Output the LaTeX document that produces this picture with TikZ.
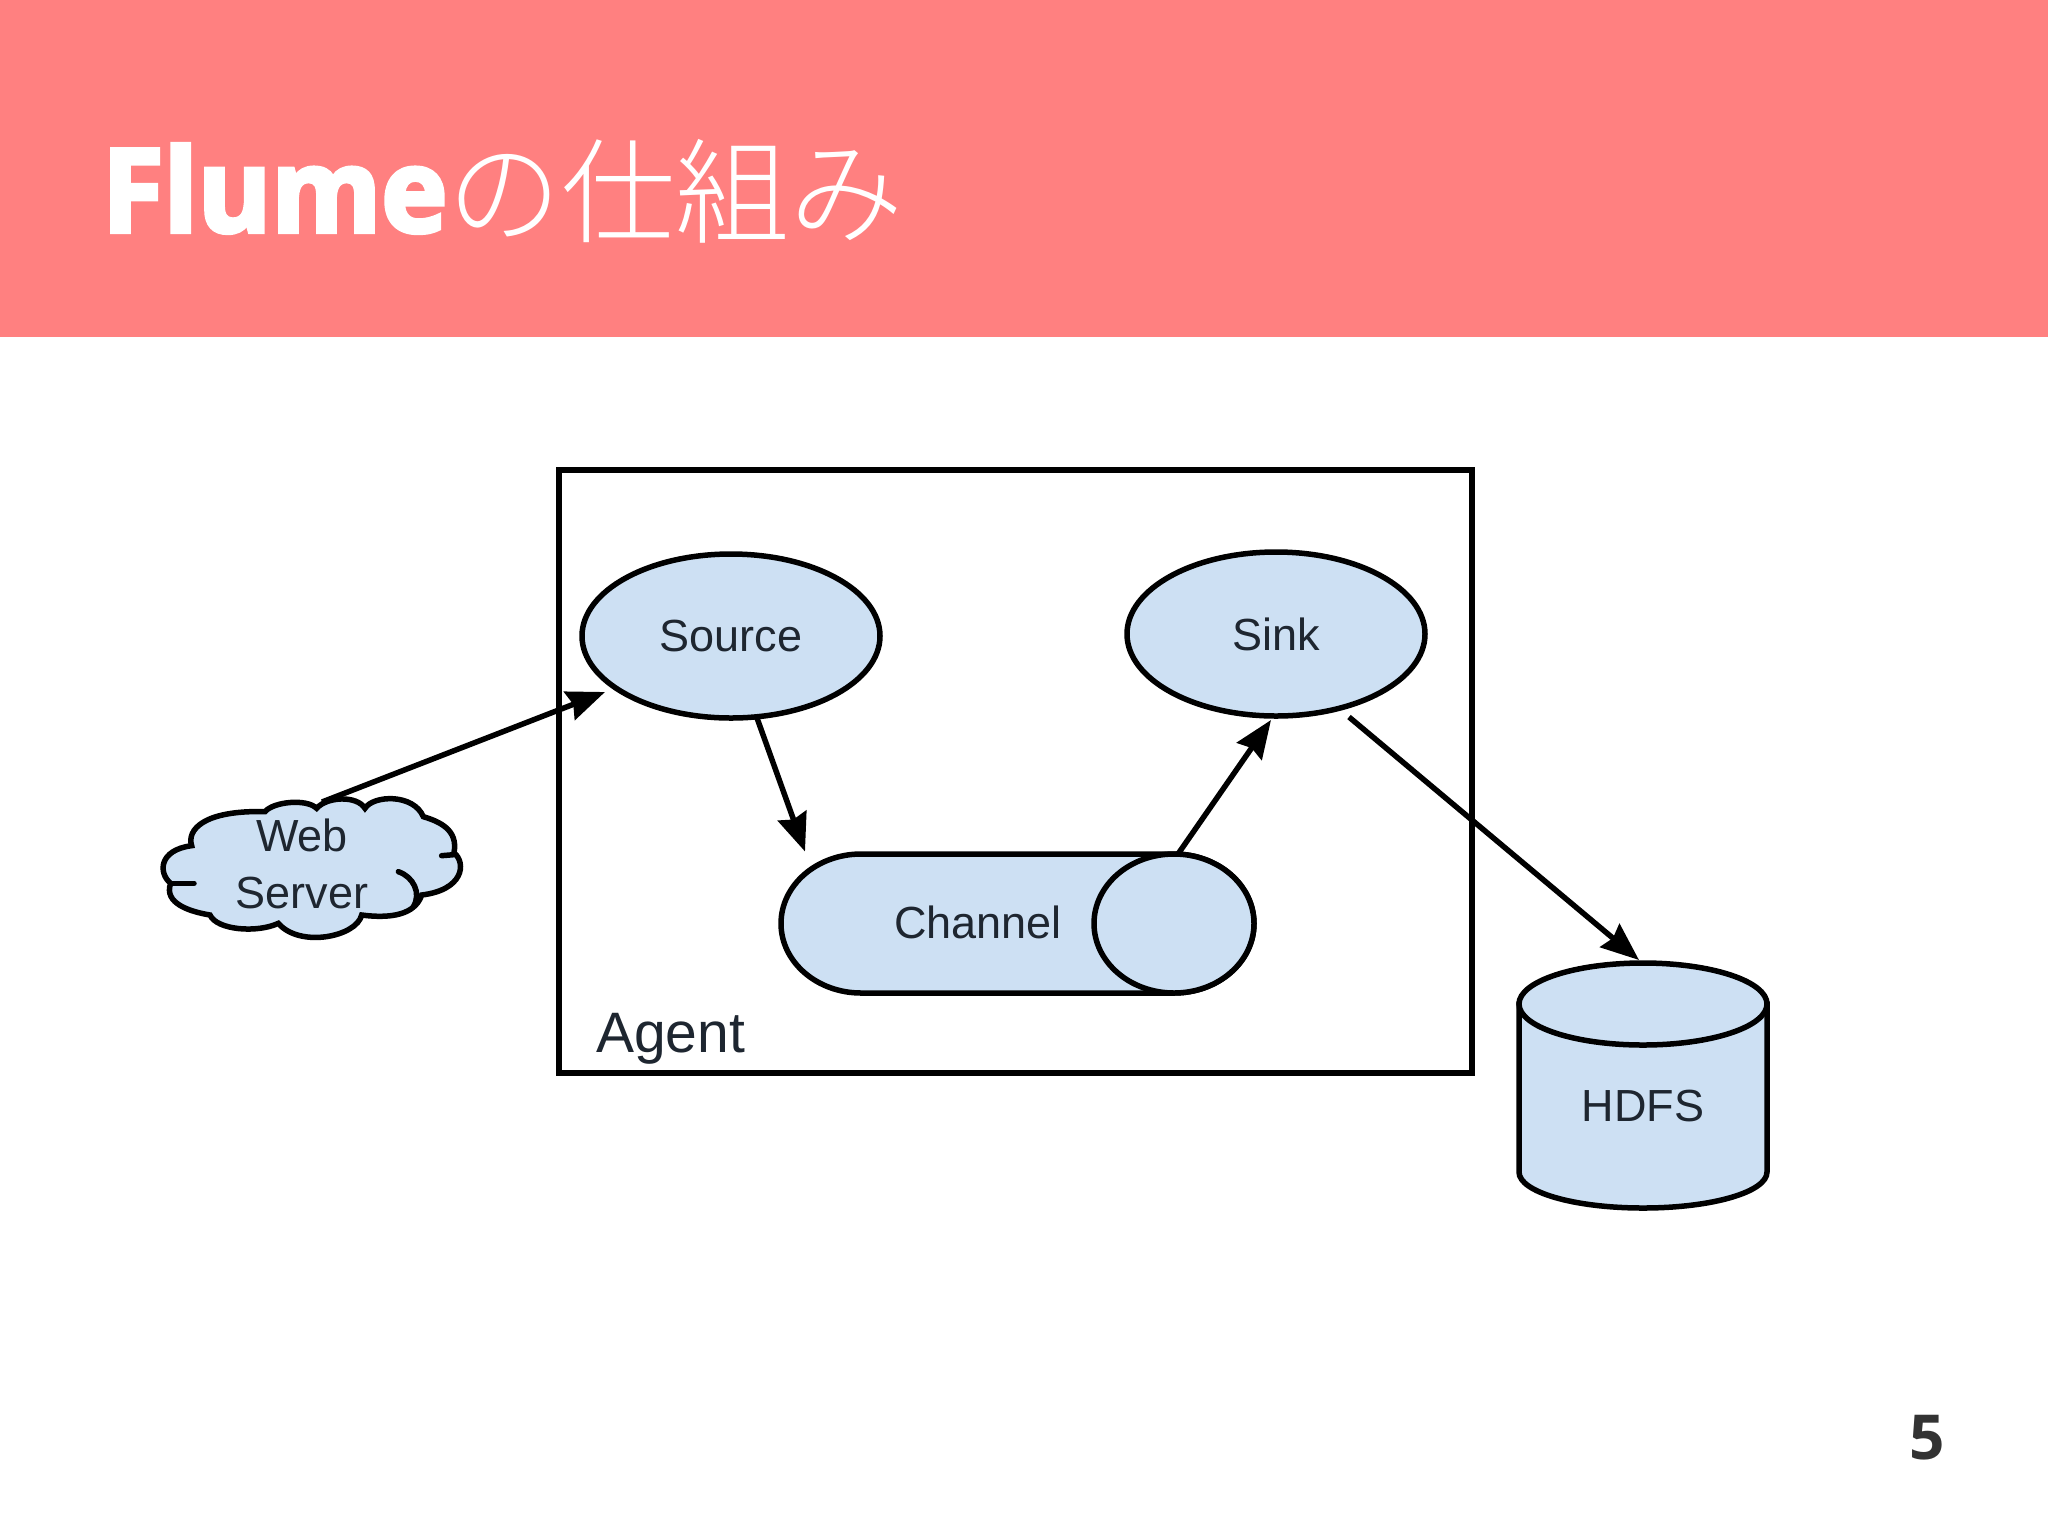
\documentclass[tikz,border=0pt]{standalone}
\usepackage{fontspec}
\usetikzlibrary{arrows.meta,shapes.geometric}
\setmainfont{Liberation Sans}
\newfontfamily\titlefont[FakeBold=3.5,FakeStretch=0.965]{Open Sans Bold}
\newfontfamily\cjkfont{Noto Sans CJK JP Light}
\newfontfamily\numfont{Open Sans Bold}
\definecolor{banner}{HTML}{FF8080}
\definecolor{pale}{HTML}{CDE0F3}
\definecolor{ink}{HTML}{1E2630}
\definecolor{numink}{HTML}{333333}
\tikzset{
  outline/.style={draw=black,line width=5.5pt,fill=pale},
  oval/.style={ellipse,outline,inner sep=0pt,minimum width=298pt,minimum height=164pt},
  lbl/.style={text=ink,inner sep=0pt,font=\fontsize{45pt}{57pt}\selectfont},
  conn/.style={draw=black,line width=5.5pt,-{Stealth[length=38pt,width=30pt,inset=4pt]}},
}
\begin{document}
\begin{tikzpicture}[x=1pt,y=-1pt]
\useasboundingbox (0,0) rectangle (2048,1535);
\fill[banner] (0,0) rectangle (2048,337);
\node[anchor=base west,inner sep=0pt,text=white] (title) at (102,232)
  {{\fontsize{116pt}{120pt}\selectfont\titlefont Flume}\raisebox{-2pt}{\fontsize{114pt}{120pt}\selectfont\cjkfont の仕組み}};
\node[anchor=base,inner sep=0pt,text=numink] (pagenum) at (1927,1459)
  {\fontsize{62pt}{66pt}\selectfont\numfont 5};
% agent
\node[draw=black,line width=6pt,fill=white,inner sep=0pt,minimum width=913pt,minimum height=603pt] (agent) at (1015.5,771.5) {};
\node[anchor=base west,inner sep=0pt,text=ink,font=\fontsize{57pt}{60pt}\selectfont] (agentlabel) at (596,1052) {Agent};
% source, sink
\node[oval,lbl] (source) at (731,636) {Source};
\node[oval,lbl] (sink) at (1276,634) {Sink};
% channel
\path[outline] (861,854) -- (1174,854)
  .. controls (1218,854) and (1254,885) .. (1254,923.5)
  .. controls (1254,962) and (1218,993) .. (1174,993)
  -- (861,993)
  .. controls (817,993) and (781,962) .. (781,923.5)
  .. controls (781,885) and (817,854) .. (861,854) -- cycle;
\node[ellipse,outline,inner sep=0pt,minimum width=160pt,minimum height=139pt] (chanend) at (1174,923.5) {};
\node[lbl] (channel) at (978,922) {Channel};
% hdfs
\path[outline] (1519,1004) -- (1519,1172)
  .. controls (1519,1192) and (1574,1208) .. (1643,1208)
  .. controls (1712,1208) and (1767,1192) .. (1767,1172)
  -- (1767,1004) -- cycle;
\node[ellipse,outline,inner sep=0pt,minimum width=248pt,minimum height=82pt] (hdfstop) at (1643,1004) {};
\node[lbl] (hdfs) at (1643,1106) {HDFS};
% cloud
\begin{scope}[shift={(130,680)},xscale=1/3,yscale=1/3]
\path[outline]
  (405,395) .. controls (430,365) and (530,355) .. (560,385)
  .. controls (590,350) and (680,345) .. (705,385)
  .. controls (730,345) and (850,340) .. (880,410)
  .. controls (930,425) and (985,450) .. (972,518)
  .. controls (1010,550) and (1000,630) .. (875,645)
  .. controls (860,690) and (810,720) .. (695,705)
  .. controls (680,770) and (510,805) .. (445,730)
  .. controls (380,760) and (260,750) .. (240,705)
  .. controls (180,695) and (100,670) .. (122,610)
  .. controls (85,580) and (85,510) .. (185,497)
  .. controls (170,450) and (220,390) .. (405,395) -- cycle;
\draw[black,line width=5.5pt,line cap=round] (122,610) -- (192,610);
\draw[black,line width=5.5pt,line cap=round] (972,524) -- (935,527);
\draw[black,line width=5.5pt,line cap=round] (805,575) .. controls (850,590) and (875,640) .. (850,680);
\end{scope}
\node[lbl,align=center] (web) at (302,864) {Web\\Server};
% connectors
\draw[conn] ([shift={(20,-62)}]web.center) -- ([shift={(-126,56)}]source.center);
\draw[conn] ([shift={(26,82)}]source.center) -- ([shift={(-369,-72)}]chanend.center);
\draw[conn] ([shift={(4,-69.5)}]chanend.center) -- ([shift={(-5,86)}]sink.center);
\draw[conn] ([shift={(73,83)}]sink.center) -- ([shift={(-4,-44)}]hdfstop.center);
\end{tikzpicture}
\end{document}
